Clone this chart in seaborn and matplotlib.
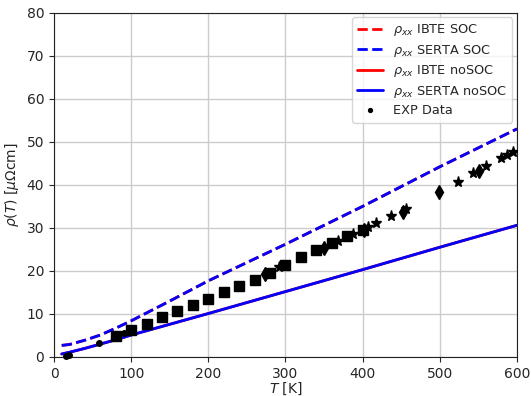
import matplotlib
matplotlib.use("Agg")
import matplotlib.pyplot as plt
import seaborn as sns
import numpy as np

# Theory curves (IBTE and SERTA coincide)
T_theory = [10, 20, 40, 60, 80, 100, 150, 200, 300, 400, 500, 600]
rho_soc = [2.7, 2.9, 3.9, 5.1, 6.7, 8.4, 13.0, 17.7, 26.2, 35.0, 44.2, 53.0]
rho_nosoc = [0.7, 1.1, 2.0, 3.0, 4.0, 5.1, 7.6, 10.1, 15.2, 20.3, 25.5, 30.6]

# Experimental data sets
T_dot = [15, 20, 58, 91]
rho_dot = [0.2, 0.4, 3.2, 5.5]
T_sq = [80, 100, 120, 140, 160, 180, 200, 220, 240, 260, 280, 300, 320, 340, 360, 380, 400]
rho_sq = [4.9, 6.3, 7.6, 9.2, 10.7, 12.0, 13.5, 15.1, 16.6, 18.0, 19.6, 21.3, 23.2, 24.8, 26.4, 28.0, 29.6]
T_dia = [273, 350, 402, 452, 499, 551]
rho_dia = [19.2, 25.3, 29.5, 33.8, 38.4, 43.1]
T_star = [292, 368, 388, 407, 417, 437, 456, 523, 543, 560, 579, 587, 595]
rho_star = [20.8, 27.0, 28.6, 30.3, 31.2, 32.8, 34.5, 40.7, 42.7, 44.4, 46.2, 46.9, 47.6]

sns.set_style("ticks")
plt.rcParams['font.family'] = ['DejaVu Sans']

fig = plt.figure(figsize=(5.31, 3.96), dpi=100)
ax = fig.add_axes([0.1017, 0.0985, 0.8719, 0.8695])

lw = 2.0
sns.lineplot(x=T_theory, y=rho_soc, color='red', linestyle='--', lw=lw, ax=ax,
             label=r'$\rho_{xx}$ IBTE SOC')
sns.lineplot(x=T_theory, y=rho_soc, color='blue', linestyle='--', lw=lw, ax=ax,
             label=r'$\rho_{xx}$ SERTA SOC')
sns.lineplot(x=T_theory, y=rho_nosoc, color='red', linestyle='-', lw=lw, ax=ax,
             label=r'$\rho_{xx}$ IBTE noSOC')
sns.lineplot(x=T_theory, y=rho_nosoc, color='blue', linestyle='-', lw=lw, ax=ax,
             label=r'$\rho_{xx}$ SERTA noSOC')

ax.plot(T_dot, rho_dot, 'o', color='black', ms=4, label='EXP Data', zorder=5, clip_on=False)
ax.plot(T_sq, rho_sq, 's', color='black', ms=6.5, zorder=5)
ax.plot(T_dia, rho_dia, 'd', color='black', ms=7, zorder=5)
ax.plot(T_star, rho_star, '*', color='black', ms=8, zorder=5)

ax.set_xlim(0, 600)
ax.set_ylim(0, 80)
ax.set_xticks(range(0, 601, 100))
ax.set_yticks(range(0, 81, 10))
ax.grid(True, color='#cccccc', lw=1)
ax.set_axisbelow(True)
for s in ax.spines.values():
    s.set_color('#222222')
ax.set_xlabel(r'$T$ [K]', fontsize=10, labelpad=0)
ax.set_ylabel(r'$\rho(T)$ [$\mu\Omega$cm]', fontsize=10)
ax.tick_params(labelsize=10)

leg = ax.legend(loc='upper right', fontsize=9.3, frameon=True, markerscale=0.7,
                labelspacing=0.35, borderaxespad=0.35, handlelength=2.0)

fig.savefig('out.png', dpi=100)
